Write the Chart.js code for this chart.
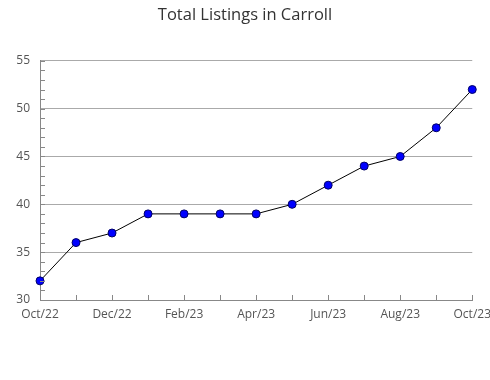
<!DOCTYPE html>
<html>
<head>
<meta charset="utf-8">
<script src="https://cdn.jsdelivr.net/npm/chart.js@4/dist/chart.umd.min.js"></script>
<style>
  html, body { margin: 0; padding: 0; background: #fff; }
  #wrap { width: 490px; height: 380px; }
</style>
</head>
<body>
<div id="wrap"><canvas id="chart" width="490" height="380"></canvas></div>
<script>
// ── Data ────────────────────────────────────────────────────────────────
const months   = ['Oct/22', 'Nov/22', 'Dec/22', 'Jan/23', 'Feb/23', 'Mar/23', 'Apr/23',
                  'May/23', 'Jun/23', 'Jul/23', 'Aug/23', 'Sep/23', 'Oct/23'];
const listings = [32, 36, 37, 39, 39, 39, 39, 40, 42, 44, 45, 48, 52];
const yTicks   = [30, 35, 40, 45, 50, 55];

const AXIS = '#888';
const GRID = '#aaa';
const TEXT = '#555';

// Small inward tick marks: one per month on x, one per unit on y
const innerTicks = {
  id: 'innerTicks',
  afterDatasetsDraw(chart) {
    const { ctx, chartArea, scales: { x, y } } = chart;
    ctx.save();
    ctx.strokeStyle = AXIS;
    ctx.lineWidth = 1;
    ctx.beginPath();
    months.forEach((m, i) => {
      const px = Math.round(x.getPixelForValue(i)) + 0.5;
      ctx.moveTo(px, chartArea.bottom);
      ctx.lineTo(px, chartArea.bottom - 5);
    });
    for (let v = yTicks[0]; v <= yTicks[yTicks.length - 1]; v++) {
      const py = Math.round(y.getPixelForValue(v)) + 0.5;
      ctx.moveTo(chartArea.left, py);
      ctx.lineTo(chartArea.left + 5, py);
    }
    ctx.stroke();
    ctx.restore();
  }
};

new Chart(document.getElementById('chart'), {
  type: 'line',
  data: {
    labels: months,
    datasets: [{
      data: listings,
      borderColor: '#000',
      borderWidth: 1,
      pointBackgroundColor: '#0000ff',
      pointBorderColor: '#000066',
      pointBorderWidth: 1,
      pointRadius: 4,
      tension: 0,
      clip: false,
    }]
  },
  options: {
    responsive: false,
    animation: false,
    layout: { padding: 0 },
    plugins: {
      legend: { display: false },
      tooltip: { enabled: false },
      title: {
        display: true,
        text: 'Total Listings in Carroll',
        color: '#333',
        font: { family: 'Open Sans', size: 16.5, weight: 'normal' },
        padding: { top: 5, bottom: 36 },
      },
    },
    scales: {
      x: {
        grid: { display: false },
        border: { display: true, color: AXIS },
        ticks: {
          color: TEXT,
          font: { family: 'Open Sans', size: 12 },
          padding: -1,
          maxRotation: 0,
          autoSkip: false,
          callback: (v, i) => (i % 2 === 0 ? months[i] : ''),
        },
        afterFit: s => { s.height = 80; },
      },
      y: {
        min: yTicks[0],
        max: yTicks[yTicks.length - 1],
        grid: { color: GRID, drawTicks: false },
        border: { display: true, color: AXIS },
        ticks: {
          stepSize: 5,
          color: TEXT,
          font: { family: 'Open Sans', size: 12 },
          padding: 10,
        },
        afterFit: s => { s.width = 40; },
      },
    },
  },
  plugins: [innerTicks],
});
</script>
</body>
</html>
